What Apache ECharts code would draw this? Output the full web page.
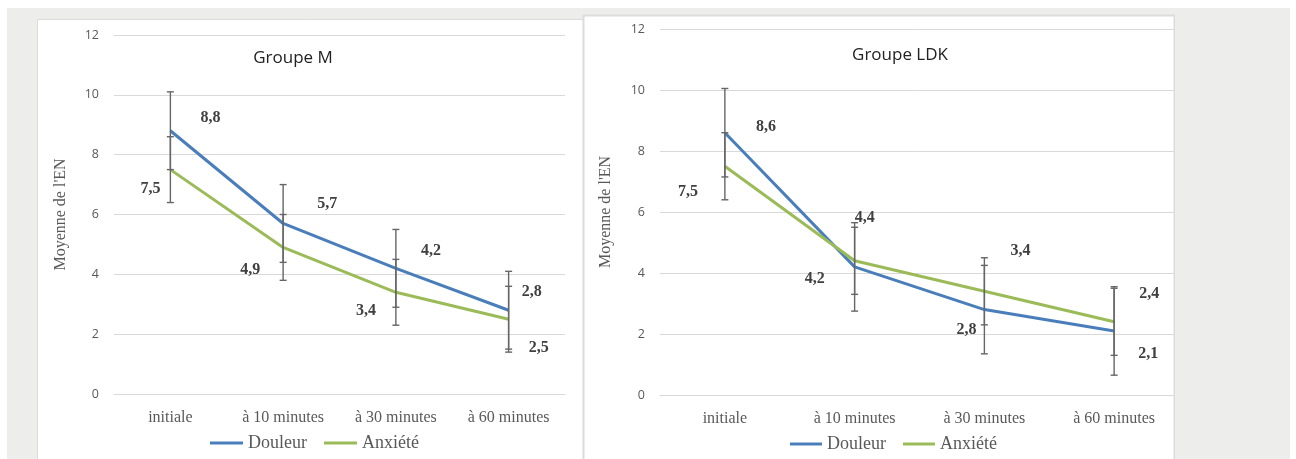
<!DOCTYPE html>
<html>
<head>
<meta charset="utf-8">
<script src="https://cdn.jsdelivr.net/npm/echarts@6/dist/echarts.min.js"></script>
<style>
  html, body { margin: 0; padding: 0; background: #ffffff; }
  #chart { width: 1296px; height: 459px; }
</style>
</head>
<body>
<div id="chart"></div>
<script>
// Time points shared by both groups
const categories = ['initiale', 'à 10 minutes', 'à 30 minutes', 'à 60 minutes'];
const seriesNames = ['Douleur', 'Anxiété'];

// Value axis ticks (EN score)
const yMin = 0;
const yMax = 12;
const yStep = 2;

// Groupe M: means and error-bar half-widths
const douleurM = [8.8, 5.7, 4.2, 2.8];
const anxieteM = [7.5, 4.9, 3.4, 2.5];
const douleurMErr = [1.3, 1.3, 1.3, 1.3];
const anxieteMErr = [1.1, 1.1, 1.1, 1.1];

// Groupe LDK: means and error-bar half-widths
const douleurLDK = [8.6, 4.2, 2.8, 2.1];
const anxieteLDK = [7.5, 4.4, 3.4, 2.4];
const douleurLDKErr = [1.45, 1.45, 1.45, 1.45];
const anxieteLDKErr = [1.1, 1.1, 1.1, 1.1];

// ---- presentation ----
const BLUE = '#4a7ebb';
const GREEN = '#9bbb59';
const GRID_LINE = '#d9d9d9';
const AXIS_TEXT = '#595959';
const ERR_COLOR = '#666666';
const SERIF = '"Liberation Serif", "Times New Roman", serif';
const SANS = '"Open Sans", "Noto Sans", sans-serif';

// hand-placed value label offsets (px from each point)
const labelOffsets = {
  douleurM:   [[40, -13], [44, -20], [35, -17], [23, -18]],
  anxieteM:   [[-20, 19], [-33, 22], [-30, 19], [30, 29]],
  douleurLDK: [[41, -6], [-40, 12], [-18, 20], [34, 23]],
  anxieteLDK: [[-37, 26], [10, -43], [36, -40], [35, -28]]
};

const fmt = v => v.toFixed(1).replace('.', ',');

function lineSeries(name, values, offsets, color, axisIdx) {
  return {
    name: name,
    type: 'line',
    xAxisIndex: axisIdx,
    yAxisIndex: axisIdx,
    data: values.map((v, i) => ({
      value: v,
      label: { offset: offsets[i] }
    })),
    symbol: 'circle',
    symbolSize: 1,
    showSymbol: true,
    itemStyle: { color: color },
    lineStyle: { color: color, width: 3 },
    emphasis: { disabled: true },
    z: 2,
    label: {
      show: true,
      position: 'inside',
      formatter: p => fmt(p.value),
      fontFamily: SERIF,
      fontWeight: 'bold',
      fontSize: 16,
      color: '#404040'
    }
  };
}

function renderErr(params, api) {
  const x = api.value(0);
  const pLo = api.coord([x, api.value(1)]);
  const pHi = api.coord([x, api.value(2)]);
  const hw = 3.5;
  const style = { stroke: ERR_COLOR, lineWidth: 1.4 };
  return {
    type: 'group',
    children: [
      { type: 'line', shape: { x1: pLo[0], y1: pLo[1], x2: pHi[0], y2: pHi[1] }, style: style },
      { type: 'line', shape: { x1: pHi[0] - hw, y1: pHi[1], x2: pHi[0] + hw, y2: pHi[1] }, style: style },
      { type: 'line', shape: { x1: pLo[0] - hw, y1: pLo[1], x2: pLo[0] + hw, y2: pLo[1] }, style: style }
    ]
  };
}

function errSeries(values, errs, axisIdx) {
  return {
    type: 'custom',
    xAxisIndex: axisIdx,
    yAxisIndex: axisIdx,
    renderItem: renderErr,
    data: values.map((v, i) => [i, v - errs[i], v + errs[i]]),
    silent: true,
    z: 3
  };
}

function xAxis(gridIndex) {
  return {
    type: 'category',
    gridIndex: gridIndex,
    data: categories,
    boundaryGap: true,
    axisLine: { show: true, lineStyle: { color: GRID_LINE, width: 1 } },
    axisTick: { show: false },
    axisLabel: { color: AXIS_TEXT, fontFamily: SERIF, fontSize: 16, margin: 16 }
  };
}

function yAxis(gridIndex, nameGap) {
  return {
    type: 'value',
    gridIndex: gridIndex,
    min: yMin,
    max: yMax,
    interval: yStep,
    name: "Moyenne de l'EN",
    nameLocation: 'middle',
    nameRotate: 90,
    nameGap: nameGap,
    nameTextStyle: { color: AXIS_TEXT, fontFamily: SERIF, fontSize: 16 },
    axisLine: { show: false },
    axisTick: { show: false },
    splitLine: { lineStyle: { color: GRID_LINE, width: 1 } },
    axisLabel: { color: AXIS_TEXT, fontFamily: SANS, fontSize: 12.5, margin: 15 }
  };
}

function legend(left, top, iconW) {
  return {
    left: left,
    top: top,
    padding: 0,
    itemGap: 17,
    itemWidth: iconW,
    itemHeight: 3,
    icon: 'rect',
    data: seriesNames,
    selectedMode: false,
    textStyle: { color: AXIS_TEXT, fontFamily: SERIF, fontSize: 18 }
  };
}

const chart = echarts.init(document.getElementById('chart'), null, { renderer: 'canvas' });

chart.setOption({
  animation: false,
  backgroundColor: '#ffffff',
  graphic: [
    { type: 'rect', z: -100, shape: { x: 7, y: 8, width: 1283, height: 460 }, style: { fill: '#edeeec' } },
    { type: 'rect', z: -90, shape: { x: 37.5, y: 19.5, width: 546, height: 460 }, style: { fill: '#ffffff', stroke: '#dcdcdc', lineWidth: 1 } },
    { type: 'rect', z: -80, shape: { x: 583.5, y: 15.5, width: 591, height: 460 }, style: { fill: '#ffffff', stroke: '#dcdcdc', lineWidth: 2 } },
    { type: 'rect', z: 100, shape: { x: 1175, y: 14, width: 115, height: 460 }, style: { fill: '#edeeec' } }
  ],
  title: [
    { text: 'Groupe M', left: 293, top: 50, textAlign: 'center', padding: 0,
      textStyle: { fontFamily: SANS, fontSize: 17, fontWeight: 'normal', color: '#222222' } },
    { text: 'Groupe LDK', left: 900, top: 47, textAlign: 'center', padding: 0,
      textStyle: { fontFamily: SANS, fontSize: 17, fontWeight: 'normal', color: '#222222' } }
  ],
  legend: [legend(210, 434, 33), legend(790, 435, 32)],
  grid: [
    { left: 114, top: 35, width: 451, height: 359 },
    { left: 660, top: 29, width: 519, height: 366 }
  ],
  xAxis: [xAxis(0), xAxis(1)],
  yAxis: [yAxis(0, 45), yAxis(1, 46)],
  series: [
    lineSeries('Douleur', douleurM, labelOffsets.douleurM, BLUE, 0),
    lineSeries('Anxiété', anxieteM, labelOffsets.anxieteM, GREEN, 0),
    errSeries(douleurM, douleurMErr, 0),
    errSeries(anxieteM, anxieteMErr, 0),
    lineSeries('Douleur', douleurLDK, labelOffsets.douleurLDK, BLUE, 1),
    lineSeries('Anxiété', anxieteLDK, labelOffsets.anxieteLDK, GREEN, 1),
    errSeries(douleurLDK, douleurLDKErr, 1),
    errSeries(anxieteLDK, anxieteLDKErr, 1)
  ]
});
</script>
</body>
</html>
